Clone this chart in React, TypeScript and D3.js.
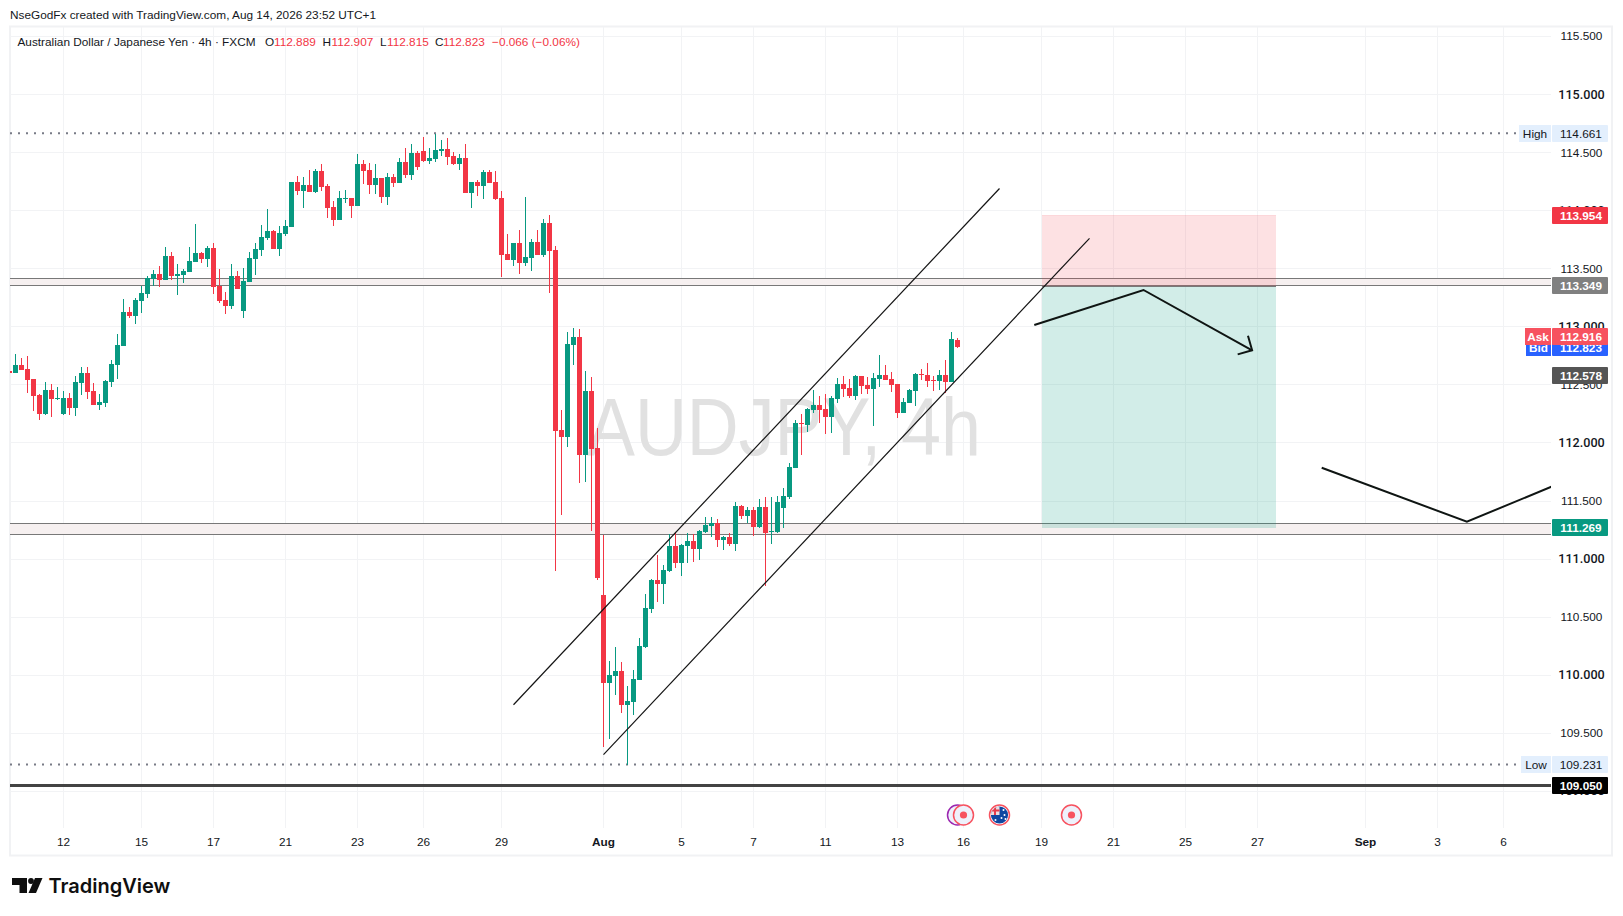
import * as d3 from 'd3'

// AUD/JPY 4h candles. One entry per bar, bar 0 sits at the left edge.
const opens = [
  112.620, 112.602, 112.671, 112.637, 112.551, 112.413, 112.249, 112.456, 112.379, 112.249,
  112.387, 112.301, 112.516, 112.602, 112.447, 112.327, 112.344, 112.525, 112.671, 112.835,
  113.128, 113.093, 113.222, 113.283, 113.412, 113.455, 113.403, 113.610, 113.438, 113.446,
  113.472, 113.558, 113.636, 113.584, 113.679, 113.352, 113.231, 113.179, 113.438, 113.136,
  113.386, 113.584, 113.661, 113.765, 113.825, 113.670, 113.799, 113.860, 114.247, 114.169,
  114.221, 114.161, 114.342, 114.213, 114.032, 113.920, 114.101, 114.109, 114.040, 114.402,
  114.350, 114.221, 114.281, 114.118, 114.290, 114.238, 114.419, 114.307, 114.497, 114.514,
  114.428, 114.445, 114.514, 114.531, 114.471, 114.402, 114.454, 114.152, 114.247, 114.213,
  114.333, 114.247, 114.109, 113.627, 113.575, 113.722, 113.550, 113.593, 113.730, 113.618,
  113.894, 113.661, 112.112, 112.051, 112.844, 112.912, 111.896, 112.447, 111.957, 110.691,
  109.933, 109.994, 110.037, 109.744, 109.770, 109.959, 110.243, 110.571, 110.820, 110.786,
  110.898, 111.113, 110.967, 111.113, 111.156, 111.087, 111.233, 111.285, 111.311, 111.165,
  111.190, 111.130, 111.457, 111.371, 111.423, 111.277, 111.449, 111.234, 111.234, 111.440,
  111.535, 111.785, 112.172, 112.155, 112.284, 112.327, 112.293, 112.224, 112.379, 112.508,
  112.473, 112.405, 112.577, 112.499, 112.465, 112.551, 112.585, 112.551, 112.508, 112.258,
  112.344, 112.448, 112.594, 112.585, 112.542, 112.534, 112.585, 112.525, 112.889,
]
const highs = [
  112.630, 112.766, 112.732, 112.749, 112.551, 112.422, 112.525, 112.508, 112.482, 112.447,
  112.430, 112.577, 112.654, 112.654, 112.516, 112.422, 112.542, 112.714, 112.938, 113.240,
  113.171, 113.248, 113.352, 113.438, 113.489, 113.524, 113.687, 113.644, 113.541, 113.498,
  113.687, 113.885, 113.644, 113.696, 113.722, 113.498, 113.300, 113.541, 113.481, 113.507,
  113.644, 113.722, 113.877, 114.014, 113.834, 113.868, 113.920, 114.247, 114.299, 114.290,
  114.350, 114.359, 114.402, 114.230, 114.083, 114.169, 114.178, 114.109, 114.488, 114.436,
  114.411, 114.402, 114.281, 114.324, 114.316, 114.454, 114.540, 114.574, 114.514, 114.634,
  114.540, 114.661, 114.609, 114.626, 114.505, 114.488, 114.574, 114.247, 114.264, 114.350,
  114.350, 114.342, 114.169, 113.799, 113.722, 113.834, 114.118, 113.756, 113.834, 113.928,
  113.963, 113.696, 112.284, 112.955, 112.990, 112.981, 112.620, 112.568, 112.129, 111.208,
  110.123, 110.243, 110.114, 109.908, 110.045, 110.321, 110.700, 110.829, 111.035, 110.949,
  111.216, 111.225, 111.130, 111.225, 111.216, 111.251, 111.363, 111.363, 111.345, 111.199,
  111.225, 111.492, 111.466, 111.449, 111.449, 111.518, 111.535, 111.535, 111.544, 111.612,
  111.828, 112.198, 112.250, 112.301, 112.456, 112.405, 112.422, 112.405, 112.560, 112.577,
  112.551, 112.585, 112.577, 112.568, 112.603, 112.758, 112.671, 112.611, 112.508, 112.387,
  112.465, 112.603, 112.637, 112.689, 112.577, 112.628, 112.714, 112.955, 112.907,
]
const lows = [
  112.600, 112.602, 112.628, 112.430, 112.275, 112.198, 112.241, 112.224, 112.370, 112.241,
  112.241, 112.232, 112.413, 112.379, 112.327, 112.284, 112.310, 112.482, 112.551, 112.835,
  113.076, 113.024, 113.119, 113.248, 113.352, 113.343, 113.403, 113.403, 113.274, 113.377,
  113.472, 113.558, 113.550, 113.515, 113.283, 113.205, 113.111, 113.154, 113.326, 113.076,
  113.386, 113.446, 113.610, 113.748, 113.670, 113.610, 113.782, 113.860, 114.135, 114.023,
  114.161, 114.152, 114.169, 113.937, 113.868, 113.920, 114.066, 113.937, 114.040, 114.230,
  114.144, 114.144, 114.066, 114.049, 114.204, 114.238, 114.281, 114.264, 114.350, 114.419,
  114.402, 114.419, 114.471, 114.393, 114.393, 114.350, 114.152, 114.023, 114.126, 114.101,
  114.238, 114.092, 113.429, 113.575, 113.524, 113.455, 113.524, 113.481, 113.618, 113.601,
  113.291, 110.897, 111.380, 111.965, 112.671, 111.655, 111.664, 111.242, 110.820, 109.382,
  109.451, 109.830, 109.675, 109.231, 109.658, 109.959, 110.235, 110.536, 110.631, 110.614,
  110.889, 110.924, 110.855, 110.967, 110.975, 110.992, 111.225, 111.190, 111.104, 111.078,
  111.113, 111.070, 111.345, 111.311, 111.199, 111.268, 110.768, 111.130, 111.225, 111.268,
  111.518, 111.785, 111.897, 112.095, 112.258, 112.172, 112.077, 112.086, 112.344, 112.396,
  112.387, 112.370, 112.422, 112.422, 112.146, 112.482, 112.542, 112.439, 112.215, 112.258,
  112.344, 112.318, 112.542, 112.482, 112.448, 112.456, 112.430, 112.525, 112.815,
]
const closes = [
  112.603, 112.671, 112.628, 112.542, 112.404, 112.249, 112.456, 112.379, 112.387, 112.387,
  112.301, 112.525, 112.602, 112.439, 112.327, 112.353, 112.534, 112.680, 112.844, 113.128,
  113.093, 113.231, 113.291, 113.420, 113.455, 113.403, 113.610, 113.438, 113.455, 113.481,
  113.567, 113.636, 113.584, 113.679, 113.343, 113.222, 113.179, 113.438, 113.326, 113.395,
  113.593, 113.670, 113.773, 113.825, 113.670, 113.808, 113.868, 114.247, 114.169, 114.221,
  114.161, 114.342, 114.204, 114.023, 113.920, 114.109, 114.109, 114.040, 114.402, 114.342,
  114.221, 114.281, 114.118, 114.290, 114.238, 114.419, 114.307, 114.497, 114.376, 114.428,
  114.454, 114.523, 114.531, 114.462, 114.402, 114.454, 114.152, 114.247, 114.213, 114.333,
  114.238, 114.101, 113.618, 113.575, 113.722, 113.550, 113.601, 113.730, 113.618, 113.894,
  113.653, 112.103, 112.051, 112.852, 112.912, 111.896, 112.447, 111.948, 110.837, 109.933,
  110.002, 110.037, 109.744, 109.778, 109.968, 110.252, 110.579, 110.820, 110.786, 110.906,
  111.113, 110.967, 111.122, 111.156, 111.087, 111.242, 111.294, 111.311, 111.165, 111.190,
  111.130, 111.457, 111.371, 111.423, 111.277, 111.449, 111.225, 111.242, 111.492, 111.544,
  111.793, 112.172, 112.163, 112.293, 112.327, 112.284, 112.224, 112.387, 112.508, 112.465,
  112.405, 112.577, 112.491, 112.465, 112.560, 112.585, 112.542, 112.499, 112.258, 112.353,
  112.456, 112.594, 112.585, 112.534, 112.534, 112.585, 112.525, 112.895, 112.823,
]

const priceTicks = [115.5, 115, 114.5, 114, 113.5, 113, 112.5, 112, 111.5, 111, 110.5, 110, 109.5, 109]
const timeLabels = ['12', '15', '17', '21', '23', '26', '29', 'Aug', '5', '7', '11', '13', '16', '19', '21', '25', '27', 'Sep', '3', '6']
const timeBars = [9, 22, 34, 46, 58, 69, 82, 99, 112, 124, 136, 148, 159, 172, 184, 196, 208, 226, 238, 249]

// user drawings, as [bar, price]
const channelUpper: [number, number][] = [[84, 109.746], [165, 114.191]]
const channelLower: [number, number][] = [[99, 109.316], [180, 113.762]]
const arrowPath: [number, number][] = [[170.8, 113.015], [189, 113.317], [207.1, 112.798]]
const swingPath: [number, number][] = [[218.7, 111.786], [242.9, 111.322], [257, 111.623]]
const positionBars = [172, 211]
const positionStop = 113.954
const positionEntry = 113.349
const positionTarget = 111.269
const upperZone = [113.417, 113.355]
const lowerZone = [111.308, 111.214]
const highPrice = 114.661
const lowPrice = 109.231
const floorPrice = 109.05
const askPrice = 112.916
const bidPrice = 112.823
const alertPrice = 112.578
const eventBars = [159, 177]
const purpleEventBar = 158
const flagEventBar = 165

const paneLeft = 10
const paneRight = 1551
const paneTop = 27
const paneBottom = 828
const axisX = 1552
const axisW = 56

const GREEN = '#089981'
const RED = '#f23645'
const TEXT = '#131722'
const GRID = '#f2f3f5'
const FONT = '"Liberation Sans", Arial, sans-serif'

const x = d3.scaleLinear().domain([0, 249]).range([9.5, 1503.5])
const y = d3.scaleLinear().domain([115, 109]).range([94.5, 791.4])
const crisp = (v: number) => Math.floor(v) + 0.5

const drawing = d3.line<[number, number]>().x(d => x(d[0])).y(d => y(d[1]))

function arrowHead(path: [number, number][]) {
  const [a, b] = path.slice(-2)
  const tipX = x(b[0])
  const tipY = y(b[1])
  const back = Math.atan2(y(a[1]) - tipY, x(a[0]) - tipX)
  const wing = (da: number) => `${tipX + 15 * Math.cos(back + da)},${tipY + 15 * Math.sin(back + da)}`
  return `M${wing(Math.PI / 4)}L${tipX},${tipY}L${wing(-Math.PI / 4)}`
}

function Tag({ price, label, fill, color = '#fff', bold = true, labelW = 0 }: {
  price: number, label?: string, fill: string, color?: string, bold?: boolean, labelW?: number
}) {
  const top = Math.floor(y(price) - 0.3) - 8
  return (
    <g fontFamily={FONT} fontSize={11.8} fontWeight={bold ? 700 : 400}>
      {label && (
        <>
          <rect x={paneRight - labelW} y={top} width={labelW} height={17} fill={fill} />
          <text x={paneRight - labelW / 2} y={top + 12.5} fill={color} textAnchor="middle">{label}</text>
        </>
      )}
      <rect x={axisX} y={top} width={axisW} height={17} fill={fill} rx={1} />
      <text x={axisX + 29} y={top + 12.5} fill={color} textAnchor="middle">{price.toFixed(3)}</text>
    </g>
  )
}

function EventDot({ cx }: { cx: number }) {
  return (
    <g>
      <circle cx={cx} cy={815} r={10} fill="#eef1fb" stroke="#f7525f" strokeWidth={1.5} />
      <circle cx={cx} cy={815} r={3.6} fill="#f7525f" />
    </g>
  )
}

export default function App() {
  const bars = d3.range(opens.length)
  const boxLeft = x(positionBars[0])
  const boxW = x(positionBars[1]) - boxLeft
  const flagX = x(flagEventBar)

  return (
    <svg width={1623} height={916} style={{ position: 'absolute', left: 0, top: 0, background: '#fff' }}>
      <defs>
        <clipPath id="pane"><rect x={paneLeft} y={paneTop} width={paneRight - paneLeft} height={paneBottom - paneTop} /></clipPath>
        <clipPath id="flag"><circle cx={flagX} cy={815} r={8.6} /></clipPath>
      </defs>

      <text x={10} y={19} fontFamily={FONT} fontSize={11.8} fill={TEXT}>NseGodFx created with TradingView.com, Aug 14, 2026 23:52 UTC+1</text>

      {/* frame */}
      <rect x={10} y={26.5} width={1602} height={829} fill="none" stroke="#f1f2f4" strokeWidth={2} />

      {/* grid */}
      <g stroke={GRID} shapeRendering="crispEdges">
        {priceTicks.map(p => <line key={p} x1={paneLeft} x2={paneRight} y1={crisp(y(p))} y2={crisp(y(p))} />)}
        {timeBars.map(b => <line key={b} x1={crisp(x(b))} x2={crisp(x(b))} y1={paneTop} y2={paneBottom} />)}
      </g>

      <text x={587} y={455} fontFamily={FONT} fontSize={81} fill="#e1e1e1" textLength={394} lengthAdjust="spacingAndGlyphs">AUDJPY, 4h</text>

      {/* zones */}
      <g shapeRendering="crispEdges">
        {[upperZone, lowerZone].map(z => (
          <g key={z[0]}>
            <rect x={paneLeft} width={paneRight - paneLeft} y={y(z[0])} height={y(z[1]) - y(z[0])} fill="#f6f0f0" />
            <line x1={paneLeft} x2={paneRight} y1={crisp(y(z[0]))} y2={crisp(y(z[0]))} stroke="#787878" />
            <line x1={paneLeft} x2={paneRight} y1={crisp(y(z[1]))} y2={crisp(y(z[1]))} stroke="#787878" />
          </g>
        ))}
      </g>

      {/* high / low / floor */}
      <line x1={paneLeft} x2={paneRight - 32} y1={y(highPrice) - 0.5} y2={y(highPrice) - 0.5} stroke="#787b86" strokeWidth={2} strokeDasharray="2 6" />
      <line x1={paneLeft} x2={paneRight - 30} y1={y(lowPrice)} y2={y(lowPrice)} stroke="#787b86" strokeWidth={2} strokeDasharray="2 6" />
      <line x1={paneLeft} x2={paneRight} y1={y(floorPrice)} y2={y(floorPrice)} stroke="#434343" strokeWidth={3} />

      {/* position box */}
      <g shapeRendering="crispEdges">
        <rect x={boxLeft} y={y(positionStop)} width={boxW} height={y(positionEntry) - y(positionStop)} fill="rgba(242,54,69,0.15)" />
        <rect x={boxLeft} y={y(positionEntry)} width={boxW} height={y(positionTarget) - y(positionEntry)} fill="rgba(8,153,129,0.18)" />
        <line x1={boxLeft} x2={boxLeft + boxW} y1={crisp(y(positionStop))} y2={crisp(y(positionStop))} stroke="rgba(242,54,69,0.2)" />
        <line x1={boxLeft} x2={boxLeft + boxW} y1={crisp(y(positionEntry))} y2={crisp(y(positionEntry))} stroke="#787878" />
      </g>

      {/* candles */}
      <g clipPath="url(#pane)" shapeRendering="crispEdges">
        {bars.map(i => {
          const up = closes[i] >= opens[i]
          const color = up ? GREEN : RED
          const top = Math.round(y(Math.max(opens[i], closes[i])))
          const bottom = Math.round(y(Math.min(opens[i], closes[i])))
          const wickTop = Math.round(y(highs[i]))
          const wickBottom = Math.round(y(lows[i]))
          return (
            <g key={i} fill={color}>
              <rect x={x(i) - 0.5} width={1} y={wickTop} height={Math.max(wickBottom - wickTop, 1)} />
              <rect x={x(i) - 2.5} width={5} y={top} height={Math.max(bottom - top, 1)} />
            </g>
          )
        })}
      </g>

      {/* drawings */}
      <g clipPath="url(#pane)" fill="none">
        <path d={drawing(channelUpper)!} stroke="#131313" strokeWidth={1.2} />
        <path d={drawing(channelLower)!} stroke="#131313" strokeWidth={1.2} />
        <path d={drawing(arrowPath)!} stroke="#0f1513" strokeWidth={2} />
        <path d={arrowHead(arrowPath)} stroke="#0f1513" strokeWidth={2} />
        <path d={drawing(swingPath)!} stroke="#0f1513" strokeWidth={2} />
      </g>

      {/* legend */}
      <text y={46} fontFamily={FONT} fontSize={11.8} fill={TEXT}>
        <tspan x={17.5}>Australian Dollar / Japanese Yen · 4h · FXCM</tspan>
        <tspan x={265}>O</tspan><tspan x={274} fill={RED}>112.889</tspan>
        <tspan x={322.5}>H</tspan><tspan x={331.5} fill={RED}>112.907</tspan>
        <tspan x={380}>L</tspan><tspan x={387} fill={RED}>112.815</tspan>
        <tspan x={435}>C</tspan><tspan x={443} fill={RED}>112.823</tspan>
        <tspan x={492} fill={RED}>−0.066 (−0.06%)</tspan>
      </text>

      {/* price axis */}
      <g fill={TEXT} textAnchor="middle">
        {priceTicks.map(p => {
          const major = Number.isInteger(p)
          return (
            <text key={p} x={1581.5} y={y(p) + 4} fontFamily={major ? 'Roboto, sans-serif' : FONT} fontSize={major ? 12.6 : 11.8} fontWeight={major ? 500 : 400}>
              {p.toFixed(3)}
            </text>
          )
        })}
      </g>

      <Tag price={highPrice} label="High" labelW={32} fill="#e3effd" color={TEXT} bold={false} />
      <Tag price={lowPrice} label="Low" labelW={30} fill="#e3effd" color={TEXT} bold={false} />
      <Tag price={positionStop} fill={RED} />
      <Tag price={positionEntry} fill="#808080" />
      <Tag price={bidPrice} label="Bid" labelW={25} fill="#2962ff" />
      <Tag price={askPrice} label="Ask" labelW={26} fill="#f7525f" />
      <Tag price={alertPrice} fill="#555555" />
      <Tag price={positionTarget} fill={GREEN} />
      <Tag price={floorPrice} fill="#000000" />

      {/* time axis */}
      <g fontFamily={FONT} fontSize={11.8} fill={TEXT} textAnchor="middle">
        {timeBars.map((b, i) => (
          <text key={b} x={x(b)} y={846} fontWeight={timeLabels[i] === 'Aug' || timeLabels[i] === 'Sep' ? 700 : 400}>{timeLabels[i]}</text>
        ))}
      </g>

      {/* events */}
      <circle cx={x(purpleEventBar)} cy={815} r={10} fill="#eef1fb" stroke="#9c27b0" strokeWidth={1.5} />
      {eventBars.map(b => <EventDot key={b} cx={x(b)} />)}
      <circle cx={flagX} cy={815} r={10} fill="#fff" stroke="#f7525f" strokeWidth={1.5} />
      <g clipPath="url(#flag)">
        <rect x={flagX - 9} y={806} width={18} height={18} fill="#0f47a1" />
        <rect x={flagX - 9} y={806} width={9} height={9} fill="#e8dcdf" />
        <rect x={flagX - 9} y={809.5} width={9} height={2} fill="#e53a4a" />
        <rect x={flagX - 5.5} y={806} width={2} height={9} fill="#e53a4a" />
        {[[-4, 5], [4, -5], [5, 0], [2, 3], [6, 4]].map(([dx, dy]) => (
          <circle key={`${dx}${dy}`} cx={flagX + dx} cy={815 + dy} r={1} fill="#fff" />
        ))}
      </g>

      {/* logo */}
      <g fill="#0f0f0f">
        <path d="M12 878H27V893H19.5V885H12Z" />
        <circle cx={31} cy={881} r={2.9} />
        <path d="M35 878H42.5L36 893H28.5Z" />
        <text x={48.5} y={893} fontFamily='"Inter", "Liberation Sans", sans-serif' fontSize={20} fontWeight={600}>TradingView</text>
      </g>
    </svg>
  )
}
